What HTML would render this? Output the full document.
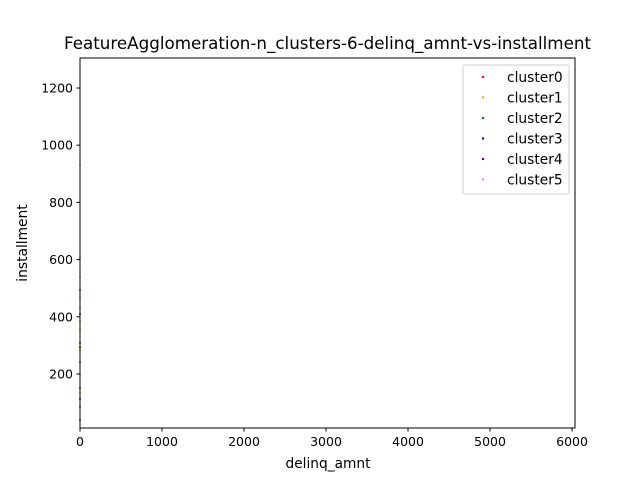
<!DOCTYPE html>
<html><head><meta charset="utf-8"><style>
body{margin:0;background:#fff;font-family:"Liberation Sans","DejaVu Sans",sans-serif}
</style></head><body>
<svg id="chart" width="640" height="480" xmlns="http://www.w3.org/2000/svg" font-family="DejaVu Sans, Liberation Sans, sans-serif">
<rect width="640" height="480" fill="#fff"/>
<text x="327.5" y="49" font-size="16.5" text-anchor="middle" textLength="527" lengthAdjust="spacingAndGlyphs">FeatureAgglomeration-n_clusters-6-delinq_amnt-vs-installment</text>
<g id="ticks"></g>
<g id="points"></g>
<rect x="80" y="58" width="495" height="370" fill="none" stroke="#000" stroke-width="1"/>
<text x="328" y="468" font-size="13.8" text-anchor="middle" textLength="85" lengthAdjust="spacingAndGlyphs">delinq_amnt</text>
<text transform="translate(27,243) rotate(-90)" font-size="13.8" text-anchor="middle">installment</text>
<g id="legend">
<rect x="463" y="65" width="106" height="129" fill="#fff" stroke="#ccc" rx="2"/>
</g>
</svg>
<script>
const xTicks=[0,1000,2000,3000,4000,5000,6000];
const yTicks=[200,400,600,800,1000,1200];
const clusterNames=["cluster0","cluster1","cluster2","cluster3","cluster4","cluster5"];
const clusterColors=["red","orange","green","blue","indigo","violet"];
const pointX=[0,0,0,0,0,0,0,0,0,0,0,0,0,0,0,0,0,0,0];
const pointY=[931,606,539,494,466,431,410,385,354,308,294,284,242,197,151,134,113,85,39];
const pointCluster=[1,1,1,0,1,5,4,1,1,0,0,1,2,1,0,1,3,0,0];
const X0=0,X1=6036,Y0=11,Y1=1305;
const L=80,R=575,T=58,B=428;
const sx=v=>L+(v-X0)/(X1-X0)*(R-L);
const sy=v=>B-(v-Y0)/(Y1-Y0)*(B-T);
const NS="http://www.w3.org/2000/svg";
function mk(tag,attrs,parent){const e=document.createElementNS(NS,tag);for(const k in attrs)e.setAttribute(k,attrs[k]);parent.appendChild(e);return e;}
const tg=document.getElementById('ticks');
xTicks.forEach(t=>{const x=sx(t);
 const l=mk('line',{x1:x,x2:x,y1:B,y2:B+3.5,stroke:'#000'},tg);
 
 
 const tx=mk('text',{x:x,y:B+18,'font-size':12.5,'text-anchor':'middle'},tg);tx.textContent=t;
 
 });
yTicks.forEach(t=>{const y=sy(t);
 const l=mk('line',{x1:L-3.5,x2:L,y1:y,y2:y,stroke:'#000'},tg);
 
 
 const tx=mk('text',{x:L-7,y:y+4.5,'font-size':12.5,'text-anchor':'end'},tg);tx.textContent=t;
 
 });
const pg=document.getElementById('points');
pointX.forEach((v,i)=>{const c=mk('circle',{cx:sx(v),cy:sy(pointY[i]),r:1,fill:clusterColors[pointCluster[i]]},pg);
 
 });
const lg=document.getElementById('legend');
clusterNames.forEach((n,i)=>{const y=77+i*20.5;
 const c=mk('circle',{cx:483,cy:y,r:1.2,fill:clusterColors[i]},lg);
 
 
 const t=mk('text',{x:507,y:y+5,'font-size':13.8},lg);t.textContent=n;
 
 });
</script>
</body></html>
